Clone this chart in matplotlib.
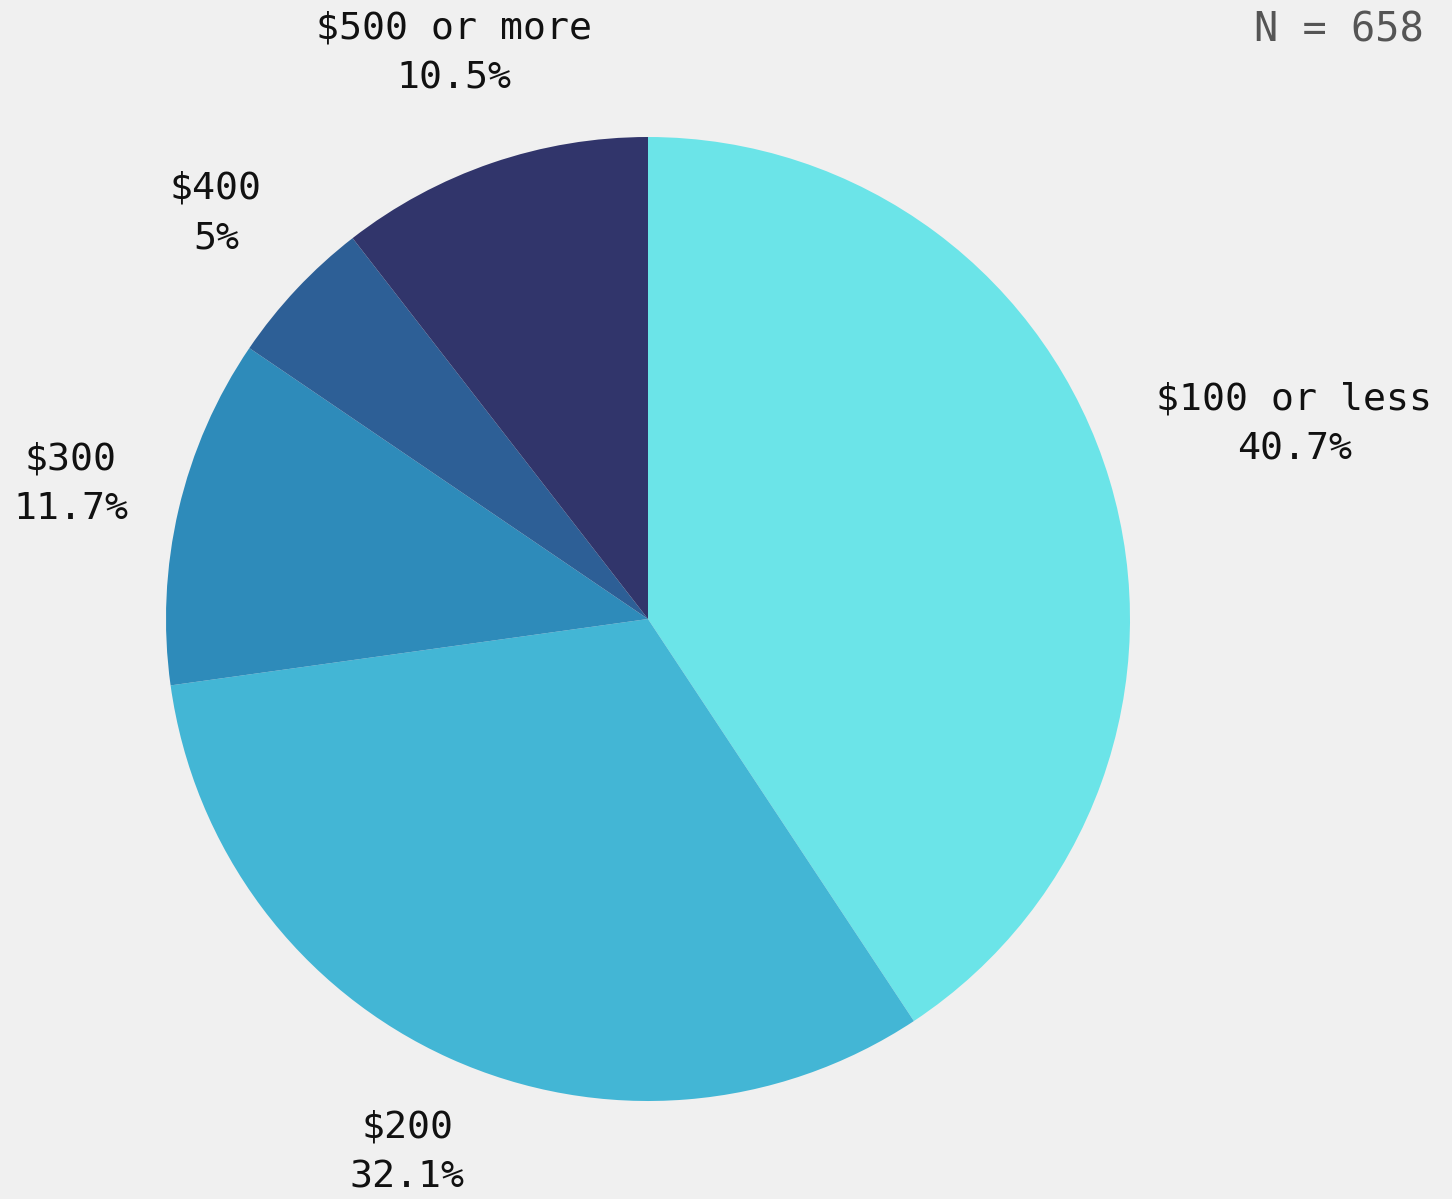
import numpy as np
import matplotlib
matplotlib.use("Agg")
import matplotlib.pyplot as plt

# Distribuição das respostas por faixa de valor
categorias = ['$100 or less', '$200', '$300', '$400', '$500 or more']
percentuais = [40.7, 32.1, 11.7, 5, 10.5]
rotulos_pct = ['40.7%', '32.1%', '11.7%', '5%', '10.5%']
n_total = 658

cores = ['#6be4e8', '#43b6d5', '#2e8bba', '#2d5f96', '#31356b']
dist_rotulo = [1.40, 1.215, 1.23, 1.23, 1.24]

W, H = 1452, 1199
fig = plt.figure(figsize=(W / 100, H / 100), dpi=100, facecolor='#f0f0f0')
ax = fig.add_axes([0, 0, 1, 1])

centro = (648, H - 619)
raio = 482

wedges, _ = ax.pie(
    percentuais,
    colors=cores,
    startangle=90,
    counterclock=False,
    center=centro,
    radius=raio,
    wedgeprops=dict(linewidth=0),
    frame=True,
)
ax.set_xlim(0, W)
ax.set_ylim(0, H)
ax.set_aspect('equal')
ax.axis('off')

# rótulos fora da pizza
for w, cat, pct, d in zip(wedges, categorias, rotulos_pct, dist_rotulo):
    ang = np.deg2rad((w.theta1 + w.theta2) / 2)
    x = centro[0] + d * raio * np.cos(ang)
    y = centro[1] + d * raio * np.sin(ang)
    ax.text(x, y, f'{cat}\n{pct}', ha='center', va='center',
            fontsize=27.5, family='DejaVu Sans Mono', color='#111111',
            linespacing=1.5)

ax.text(1424, H - 31, f'N = {n_total}', ha='right', va='center',
        fontsize=29, family='DejaVu Sans Mono', color='#555555',
        fontweight='light')

fig.savefig('out.png', dpi=100, facecolor=fig.get_facecolor())
